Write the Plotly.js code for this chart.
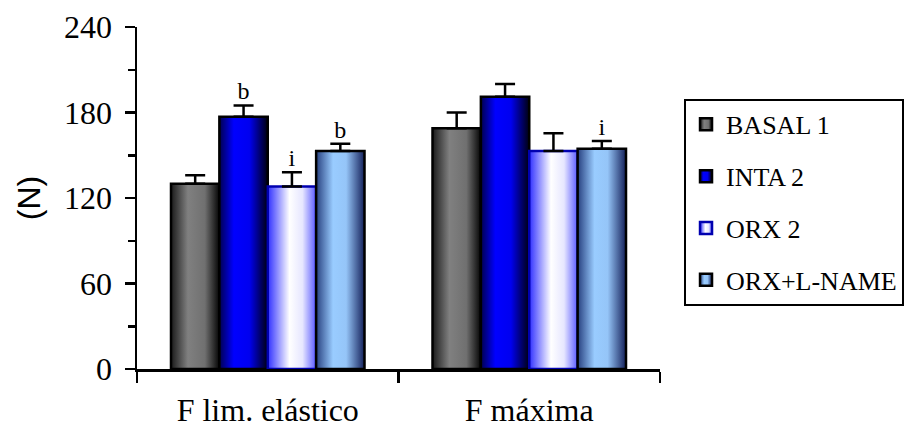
<!DOCTYPE html>
<html>
<head>
<meta charset="utf-8">
<script src="https://cdn.plot.ly/plotly-3.0.1.min.js"></script>
<style>
  html, body { margin: 0; padding: 0; background: #ffffff; }
  #chart { width: 909px; height: 432px; }
</style>
</head>
<body>
<div id="chart"></div>
<script>
// ---- data ----
const categories = ['F lim. elástico', 'F máxima'];
const seriesNames = ['BASAL 1', 'INTA 2', 'ORX 2', 'ORX+L-NAME'];

const basalValues = [130, 169];
const intaValues  = [177, 191];
const orxValues   = [128, 153];
const orxlValues  = [153, 154.5];

const basalErr = [6, 11];
const intaErr  = [8, 9];
const orxErr   = [10, 12.5];
const orxlErr  = [5, 5.5];

const basalLetters = ['', ''];
const intaLetters  = ['b', ''];
const orxLetters   = ['i', ''];
const orxlLetters  = ['b', 'i'];

const yTickVals = [0, 60, 120, 180, 240];

// ---- styles ----
const serif = 'Liberation Serif, Times New Roman, serif';
const sans = 'Liberation Sans, Arial, sans-serif';
const baseColors = ['#808080', '#0000ff', '#ccccff', '#99ccff'];
const lineColors = ['#000000', '#000000', '#0000b0', '#000000'];
const gradients = [
  [[0, '#1a1a1a'], [0.35, '#808080'], [0.7, '#707070'], [1, '#050505']],
  [[0, '#000050'], [0.3, '#0000ff'], [0.62, '#0000f0'], [1, '#000010']],
  [[0, '#3030ff'], [0.45, '#ffffff'], [0.72, '#e6e6ff'], [1, '#5a5aff']],
  [[0, '#27407f'], [0.35, '#99ccff'], [0.62, '#95c5f8'], [1, '#14205a']]
];

const values = [basalValues, intaValues, orxValues, orxlValues];
const errs = [basalErr, intaErr, orxErr, orxlErr];
const letters = [basalLetters, intaLetters, orxLetters, orxlLetters];

const data = [];
values.forEach((vals, i) => {
  data.push({
    type: 'bar',
    name: seriesNames[i],
    x: categories,
    y: vals,
    legendgroup: 'g' + i,
    marker: { color: baseColors[i], line: { color: lineColors[i], width: 2.5 } },
    error_y: {
      type: 'data', symmetric: false,
      array: errs[i], arrayminus: errs[i].map(() => 0),
      color: '#000000', thickness: 2.5, width: 10
    },
    hoverinfo: 'skip'
  });
});
values.forEach((vals, i) => {
  data.push({
    type: 'scatter',
    mode: 'text',
    x: categories,
    y: vals.map((v, k) => v + errs[i][k]),
    text: letters[i],
    textposition: 'top center',
    textfont: { family: serif, size: 24, color: '#000000' },
    showlegend: false,
    legendgroup: 'g' + i,
    hoverinfo: 'skip'
  });
});

const layout = {
  width: 909,
  height: 432,
  margin: { l: 137, r: 249, t: 27, b: 63, autoexpand: false },
  paper_bgcolor: '#ffffff',
  plot_bgcolor: '#ffffff',
  barmode: 'group',
  bargap: 0.26,
  bargroupgap: 0,
  scattermode: 'group',
  scattergap: 0.26,
  showlegend: true,
  xaxis: {
    type: 'category',
    range: [-0.5, 1.5],
    showline: true, linecolor: '#000000', linewidth: 2.5,
    ticks: 'outside', tickson: 'boundaries', ticklen: 11, tickwidth: 2.5, tickcolor: '#000000',
    tickfont: { family: serif, size: 32, color: '#000000' },
    ticklabelstandoff: 11,
    showgrid: false, zeroline: false, fixedrange: true
  },
  yaxis: {
    range: [0, 240],
    tickvals: yTickVals,
    ticktext: yTickVals.map(String),
    showline: true, linecolor: '#000000', linewidth: 2.5,
    ticks: 'outside', ticklen: 10, tickwidth: 2.5, tickcolor: '#000000',
    minor: { dtick: 30, ticks: 'outside', ticklen: 7, tickwidth: 2.5, tickcolor: '#000000', showgrid: false },
    tickfont: { family: serif, size: 32, color: '#000000' },
    ticklabelstandoff: 6,
    title: { text: '(N)', font: { family: sans, size: 32, color: '#000000' }, standoff: 14 },
    showgrid: false, zeroline: false, fixedrange: true
  },
  legend: {
    xref: 'container', yref: 'container',
    x: 0.7525, y: 0.771, xanchor: 'left', yanchor: 'top',
    bordercolor: '#000000', borderwidth: 2,
    bgcolor: '#ffffff',
    font: { family: serif, size: 26, color: '#000000' },
    tracegroupgap: 15,
    traceorder: 'grouped'
  }
};

Plotly.newPlot('chart', data, layout, { staticPlot: true, displayModeBar: false }).then(gd => {
  const NS = 'http://www.w3.org/2000/svg';
  const svg = gd.querySelector('svg.main-svg');
  const defs = document.createElementNS(NS, 'defs');
  gradients.forEach((stops, i) => {
    const lg = document.createElementNS(NS, 'linearGradient');
    lg.setAttribute('id', 'barGrad' + i);
    lg.setAttribute('x1', '0'); lg.setAttribute('y1', '0');
    lg.setAttribute('x2', '1'); lg.setAttribute('y2', '0');
    stops.forEach(([off, col]) => {
      const s = document.createElementNS(NS, 'stop');
      s.setAttribute('offset', off);
      s.setAttribute('stop-color', col);
      lg.appendChild(s);
    });
    defs.appendChild(lg);
  });
  svg.insertBefore(defs, svg.firstChild);
  gd.querySelectorAll('.barlayer .trace.bars').forEach((g, i) => {
    g.querySelectorAll('.point path').forEach(p => { p.style.fill = 'url(#barGrad' + i + ')'; });
  });
  gd.querySelectorAll('.legend .traces').forEach((g, i) => {
    g.querySelectorAll('.legendpoints path').forEach(p => { p.style.fill = 'url(#barGrad' + i + ')'; });
  });
});
</script>
</body>
</html>
